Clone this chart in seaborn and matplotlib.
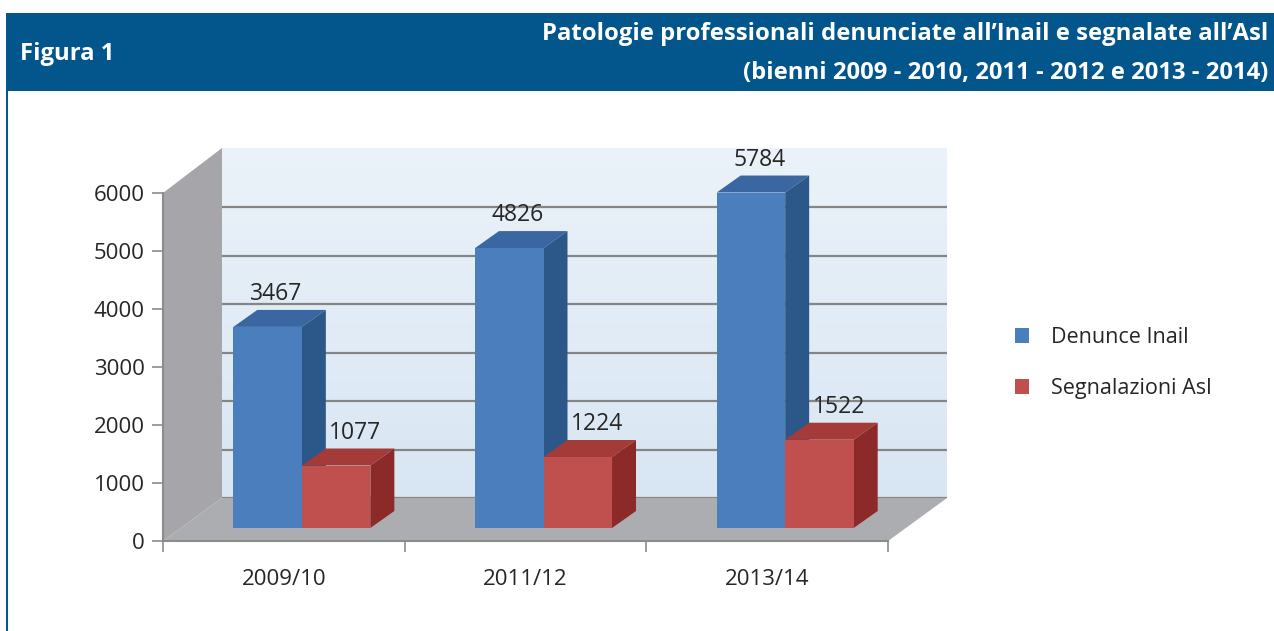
import numpy as np
import pandas as pd
import matplotlib
matplotlib.use('Agg')
import matplotlib.pyplot as plt
import seaborn as sns
from matplotlib.patches import Polygon, Rectangle, Patch
from matplotlib.colors import LinearSegmentedColormap

# ---------------- data ----------------
periodi = ['2009/10', '2011/12', '2013/14']
denunce_inail = [3467, 4826, 5784]
segnalazioni_asl = [1077, 1224, 1522]
serie = ['Denunce Inail', 'Segnalazioni Asl']
y_ticks = [0, 1000, 2000, 3000, 4000, 5000, 6000]
fig_label = "Figura 1"
title_lines = ["Patologie professionali denunciate all\u2019Inail e segnalate all\u2019Asl",
               "(bienni 2009 - 2010, 2011 - 2012 e 2013 - 2014)"]

df = pd.DataFrame({
    'periodo': periodi * 2,
    'valore': denunce_inail + segnalazioni_asl,
    'serie': [serie[0]] * len(periodi) + [serie[1]] * len(periodi),
})

# ---------------- style ----------------
sns.set_theme(style='white')
plt.rcParams['font.family'] = ['Open Sans', 'DejaVu Sans']

W, H = 1274, 631
fig = plt.figure(figsize=(W / 100, H / 100), dpi=100)
fig.patch.set_facecolor('white')

NAVY = '#02568c'
TXT = '#262626'
GRIDC = '#858585'
AXC = '#8c8c8c'
front_cols = ['#4a7ebd', '#c0504d']
top_cols = ['#3a67a2', '#a53b38']
side_cols = ['#2c5789', '#8c2a2a']


def box(x0, ytop, x1, ybot):
    return [x0 / W, 1 - ybot / H, (x1 - x0) / W, (ybot - ytop) / H]


# header band and left border
fig.add_artist(Rectangle((6 / W, 1 - 91 / H), 1, 78 / H, transform=fig.transFigure,
                         facecolor=NAVY, edgecolor='none', zorder=0))
fig.add_artist(Rectangle((6 / W, 0), 2.2 / W, 1 - 91 / H, transform=fig.transFigure,
                         facecolor=NAVY, edgecolor='none', zorder=0))
fig.text(20 / W, 1 - 54 / H, fig_label, color='white', fontsize=17.2, fontweight='bold',
         ha='left', va='center')
fig.text(1268 / W, 1 - 34 / H, title_lines[0], color='white', fontsize=17.2, fontweight='bold',
         ha='right', va='center')
fig.text(1268 / W, 1 - 73 / H, title_lines[1], color='white', fontsize=17.2, fontweight='bold',
         ha='right', va='center')

# ---------------- back wall ----------------
ax_w = fig.add_axes(box(222, 148, 947, 498))
ax_w.set_zorder(0)
wall_top = (498 - 148) / 48.5 * 1000
ax_w.set_xlim(0, 1)
ax_w.set_ylim(0, wall_top)
grad = np.linspace(0, 1, 256).reshape(-1, 1)
wall_cmap = LinearSegmentedColormap.from_list('wall', ['#d8e6f3', '#ebf2f9'])
ax_w.imshow(grad, aspect='auto', cmap=wall_cmap, extent=[0, 1, 0, wall_top], origin='lower', zorder=0)
ax_w.set_yticks(y_ticks)
ax_w.yaxis.grid(True, color=GRIDC, linewidth=1.6)
ax_w.set_axisbelow(False)
ax_w.tick_params(left=False, bottom=False, labelleft=False, labelbottom=False)
for s in ax_w.spines.values():
    s.set_visible(False)

# ---------------- front axis ----------------
ax = fig.add_axes(box(163, 193, 888, 541))
ax.set_zorder(1)
ax.patch.set_visible(False)
ax.set_xlim(-0.5, len(periodi) - 0.5)
ax.set_ylim(0, y_ticks[-1])
ax.set_yticks(y_ticks)
ax.set_yticklabels([str(v) for v in y_ticks])
ax.set_xticks(range(len(periodi)))
ax.set_xticklabels(periodi)
ax.set_xticks(np.arange(-0.5, len(periodi)), minor=True)
ax.tick_params(axis='y', which='major', left=True, length=8, width=1.2, color=AXC,
               labelsize=16, labelcolor=TXT, pad=5)
ax.tick_params(axis='x', which='major', bottom=False, length=0, labelsize=16,
               labelcolor=TXT, pad=20.5)
ax.tick_params(axis='x', which='minor', bottom=True, length=8, width=1.2, color=AXC)
for side in ['top', 'right']:
    ax.spines[side].set_visible(False)
for side in ['left', 'bottom']:
    ax.spines[side].set_color(AXC)
    ax.spines[side].set_linewidth(1.5)

# left wall and floor (derived from the two axes boxes)
p = ax.get_position()
q = ax_w.get_position()
fig.add_artist(Polygon([(p.x0, p.y0), (p.x0, p.y1), (q.x0, q.y1), (q.x0, q.y0)],
                       closed=True, transform=fig.transFigure, facecolor='#a6a6aa',
                       edgecolor='none', zorder=0.5))
fig.add_artist(Polygon([(p.x0, p.y0), (p.x1, p.y0), (q.x1, q.y0), (q.x0, q.y0)],
                       closed=True, transform=fig.transFigure, facecolor='#abadb0',
                       edgecolor='none', zorder=0.5))

# ---------------- bars ----------------
ax_b = fig.add_axes(box(181, 148, 906, 528))
ax_b.set_zorder(2)
ax_b.patch.set_visible(False)
bar_top = (528 - 148) / 58.0 * 1000
sns.barplot(data=df, x='periodo', y='valore', hue='serie', order=periodi, hue_order=serie,
            palette=front_cols, saturation=1, width=0.567, errorbar=None, legend=False,
            linewidth=0, ax=ax_b)
ax_b.set_xlim(-0.5, len(periodi) - 0.5)
ax_b.set_ylim(0, bar_top)
ax_b.axis('off')

dx = 24 / (725 / 3)
dy = 17 / 380 * bar_top
lab_dy = 16 / 380 * bar_top
lab_dx = [0.035, 0.08]

for k, cont in enumerate(ax_b.containers):
    for r in cont.patches:
        x0 = r.get_x()
        x1 = x0 + r.get_width()
        y0 = r.get_y()
        y1 = y0 + r.get_height()
        r.set_zorder(2.5 + k)
        top = Polygon([(x0, y1), (x1, y1), (x1 + dx, y1 + dy), (x0 + dx, y1 + dy)], closed=True,
                      facecolor=top_cols[k], edgecolor='none', zorder=2 + k, clip_on=False)
        side = Polygon([(x1, y0), (x1 + dx, y0 + dy), (x1 + dx, y1 + dy), (x1, y1)], closed=True,
                       facecolor=side_cols[k], edgecolor='none', zorder=2 + k, clip_on=False)
        ax_b.add_patch(top)
        ax_b.add_patch(side)
        ax_b.text((x0 + x1) / 2 + lab_dx[k], y1 + dy + lab_dy, f"{int(round(y1 - y0))}",
                  ha='center', va='center', fontsize=16.5, color=TXT, zorder=5, clip_on=False)

# ---------------- legend ----------------
handles = [Patch(facecolor=c, edgecolor='none') for c in front_cols]
fig.legend(handles, serie, loc='center left', bbox_to_anchor=(1015 / W, 1 - 363 / H),
           frameon=False, fontsize=15.5, handlelength=0.65, handleheight=0.65,
           handletextpad=1.0, labelspacing=1.4, borderpad=0, borderaxespad=0,
           labelcolor=TXT)

fig.savefig('out.png', dpi=100, facecolor='white')
